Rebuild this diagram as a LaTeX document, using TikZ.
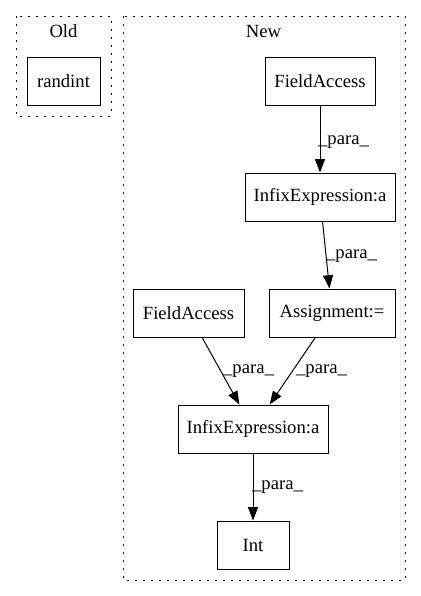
\documentclass[tikz,border=0pt]{standalone}
\usepackage{fontspec}
\setmainfont{Liberation Serif}
\usetikzlibrary{arrows.meta}
\tikzset{
	box/.style={draw, rectangle, line width=0.75pt, minimum height=36pt, inner sep=0pt, font=\fontsize{14}{16}\selectfont},
	paralabel/.style={font=\fontsize{14}{16}\selectfont, inner sep=0pt},
	cluster/.style={draw, line width=0.75pt, dash pattern=on 1.2pt off 4.8pt},
	flow/.style={-{Triangle[length=10pt,width=7.5pt]}, line width=0.75pt}
}

\begin{document}
\begin{tikzpicture}[x=0.75pt, y=-0.75pt]
			%%%%% START %%%%%
			
			\useasboundingbox (0,0) rectangle (421,596);
			
			\draw[cluster] (16,16) rectangle (111,116);
			\node[paralabel] (oldtitle) at (63.5,31) {Old};
			\draw[cluster] (123,16) rectangle (405,580);
			\node[paralabel] (newtitle) at (263.5,31) {New};
			
			\node[box, minimum width=54.75pt] (randint) at (63.5,81) {randint};
			
			\node[box, minimum width=82.5pt] (fieldtop) at (320,81) {FieldAccess};
			\node[box, minimum width=112.5pt] (infixtop) at (320,197) {InfixExpression:a};
			\node[box, minimum width=94.5pt] (assign) at (332,313) {Assignment:=};
			\node[box, minimum width=83.25pt] (fieldleft) at (188.5,313) {FieldAccess};
			\node[box, minimum width=112.5pt] (infixbot) at (253,429) {InfixExpression:a};
			\node[box, minimum width=54pt] (int) at (253,545) {Int};
			
			\draw[flow] (fieldtop) -- (infixtop);
			\node[paralabel] (para1) at (343.5,142) {\_para\_};
			\draw[flow] (infixtop) -- (assign);
			\node[paralabel] (para2) at (351.5,256) {\_para\_};
			\draw[flow] (fieldleft) -- (infixbot);
			\node[paralabel] (para3) at (248.5,371) {\_para\_};
			\draw[flow] (assign) -- (infixbot);
			\node[paralabel] (para4) at (321.5,371) {\_para\_};
			\draw[flow] (infixbot) -- (int);
			\node[paralabel] (para5) at (277.5,487) {\_para\_};
			
			%%%%% END %%%%%
\end{tikzpicture}
\end{document}
